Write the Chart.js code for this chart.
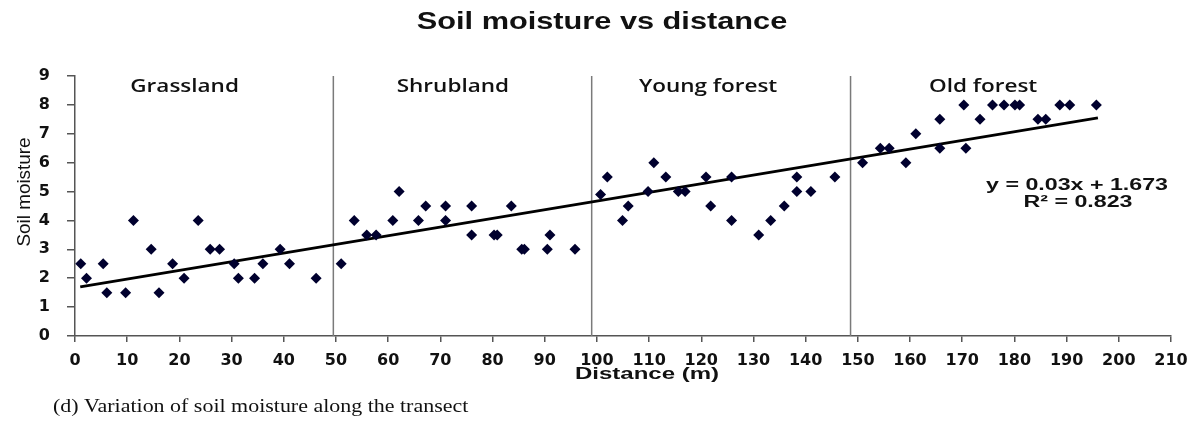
<!DOCTYPE html>
<html>
<head>
<meta charset="utf-8">
<title>Soil moisture vs distance</title>
<script src="https://cdn.jsdelivr.net/npm/chart.js@4/dist/chart.umd.min.js"></script>
<style>
  html, body { margin: 0; padding: 0; background: #fff; }
  #wrap { width: 1202px; height: 421px; }
</style>
</head>
<body>
<div id="wrap"><canvas id="soilChart" width="1202" height="421"></canvas></div>
<script>
// Samples along the transect: distance (m) and soil moisture
const distance = [
    1.1, 2.2, 5.4, 6.1, 9.7, 11.2, 14.6, 16.1, 18.7, 20.9,
    23.6, 25.9, 27.7, 30.5, 31.3, 34.4, 36, 39.3, 41.1, 46.2,
    51, 53.5, 55.9, 57.7, 60.9, 62.1, 65.8, 67.2, 71, 71,
    76, 76, 80.3, 80.9, 83.6, 85.6, 86.1, 90.5, 91, 95.8,
    100.7, 102, 104.9, 106, 109.8, 110.9, 113.2, 115.6, 116.9, 120.9,
    121.8, 125.8, 125.8, 131, 133.3, 135.9, 138.3, 138.3, 141, 145.6,
    150.9, 154.3, 156, 159.2, 161.1, 165.7, 165.7, 170.3, 170.7, 173.4,
    175.8, 178, 180.1, 181, 184.5, 186, 188.7, 190.6, 195.7
];
const moisture = [
    2.5, 2, 2.5, 1.5, 1.5, 4, 3, 1.5, 2.5, 2,
    4, 3, 3, 2.5, 2, 2, 2.5, 3, 2.5, 2,
    2.5, 4, 3.5, 3.5, 4, 5, 4, 4.5, 4.5, 4,
    4.5, 3.5, 3.5, 3.5, 4.5, 3, 3, 3, 3.5, 3,
    4.9, 5.5, 4, 4.5, 5, 6, 5.5, 5, 5, 5.5,
    4.5, 5.5, 4, 3.5, 4, 4.5, 5.5, 5, 5, 5.5,
    6, 6.5, 6.5, 6, 7, 7.5, 6.5, 8, 6.5, 7.5,
    8, 8, 8, 8, 7.5, 7.5, 8, 8, 8
];

// Vegetation zones
const boundaries = [49.5, 99, 148.6];
const zoneNames = ['Grassland', 'Shrubland', 'Young forest', 'Old forest'];
const zoneCenters = [21, 72.4, 121.3, 174];

// Linear trend line, read at its two ends
const trendX = [1, 196];
const trendY = [1.70, 7.55];
const trendText = ['y = 0.03x + 1.673', 'R\u00B2 = 0.823'];

const points = distance.map(function(d, i) {
    return { x: d, y: moisture[i] };
});

const boundaryLines = boundaries.map(function(b) {
    return {
        data: [{ x: b, y: 0 }, { x: b, y: 9 }],
        showLine: true,
        borderColor: '#7a7a7a',
        borderWidth: 1.5,
        pointRadius: 0
    };
});

// text drawn a bit wider than the font, like the original figure
function wideText(ctx, str, x, y, font, sx, align) {
    ctx.save();
    ctx.translate(x, y);
    ctx.scale(sx, 1);
    ctx.font = font;
    ctx.fillStyle = '#111';
    ctx.textAlign = align || 'center';
    ctx.textBaseline = 'middle';
    ctx.fillText(str, 0, 0);
    ctx.restore();
}

const textPlugin = {
    id: 'figureText',
    beforeDraw: function(chart) {
        const ctx = chart.ctx;
        ctx.save();
        ctx.fillStyle = '#fff';
        ctx.fillRect(0, 0, chart.width, chart.height);
        ctx.restore();
    },
    afterDraw: function(chart) {
        const ctx = chart.ctx;
        const xs = chart.scales.x;
        const ys = chart.scales.y;

        wideText(ctx, 'Soil moisture vs distance', 602, 22, 'bold 24px "Liberation Sans"', 1.28);

        // zone names
        zoneNames.forEach(function(name, i) {
            wideText(ctx, name, xs.getPixelForValue(zoneCenters[i]), ys.getPixelForValue(8.62),
                '600 18px "Open Sans"', 1.25);
        });

        // trend equation
        wideText(ctx, trendText[0], 1077, 186, 'bold 16px "Liberation Sans"', 1.45);
        wideText(ctx, trendText[1], 1078, 203, 'bold 16px "Liberation Sans"', 1.45);

        // axis titles
        wideText(ctx, 'Distance (m)', 647, 375, 'bold 16px "Liberation Sans"', 1.5);
        ctx.save();
        ctx.translate(25, 192);
        ctx.rotate(-Math.PI / 2);
        wideText(ctx, 'Soil moisture', 0, 0, '18px "Liberation Sans"', 1.05);
        ctx.restore();

        // caption
        wideText(ctx, '(d) Variation of soil moisture along the transect', 53, 407,
            '18px "Liberation Serif"', 1.22, 'left');
    }
};

const tickFont = { family: 'DejaVu Sans', size: 16, weight: 'bold' };

new Chart(document.getElementById('soilChart'), {
    type: 'scatter',
    data: {
        datasets: [
            {
                data: points,
                pointStyle: 'rectRot',
                pointRadius: 5.5,
                pointBackgroundColor: '#00002e',
                pointBorderColor: '#00002e',
                pointBorderWidth: 0
            },
            {
                data: [{ x: trendX[0], y: trendY[0] }, { x: trendX[1], y: trendY[1] }],
                showLine: true,
                borderColor: '#000',
                borderWidth: 3,
                pointRadius: 0
            }
        ].concat(boundaryLines)
    },
    options: {
        responsive: false,
        devicePixelRatio: 1,
        animation: false,
        layout: { padding: { top: 76, left: 0, right: 31, bottom: 55 } },
        plugins: {
            legend: { display: false },
            tooltip: { enabled: false },
            title: { display: false }
        },
        scales: {
            x: {
                type: 'linear',
                min: 0,
                max: 210,
                afterFit: function(scale) { scale.height = 30; },
                ticks: { stepSize: 10, font: tickFont, color: '#111', padding: 9 },
                grid: { drawOnChartArea: false, tickLength: 6, color: '#555', lineWidth: 1.5 },
                border: { display: true, color: '#555', width: 1.5 }
            },
            y: {
                min: 0,
                max: 9,
                afterFit: function(scale) { scale.width = 75; },
                ticks: { stepSize: 1, font: tickFont, color: '#111', padding: 17 },
                grid: { drawOnChartArea: false, tickLength: 8, color: '#555', lineWidth: 1.5 },
                border: { display: true, color: '#555', width: 1.5 }
            }
        }
    },
    plugins: [textPlugin]
});
</script>
</body>
</html>
